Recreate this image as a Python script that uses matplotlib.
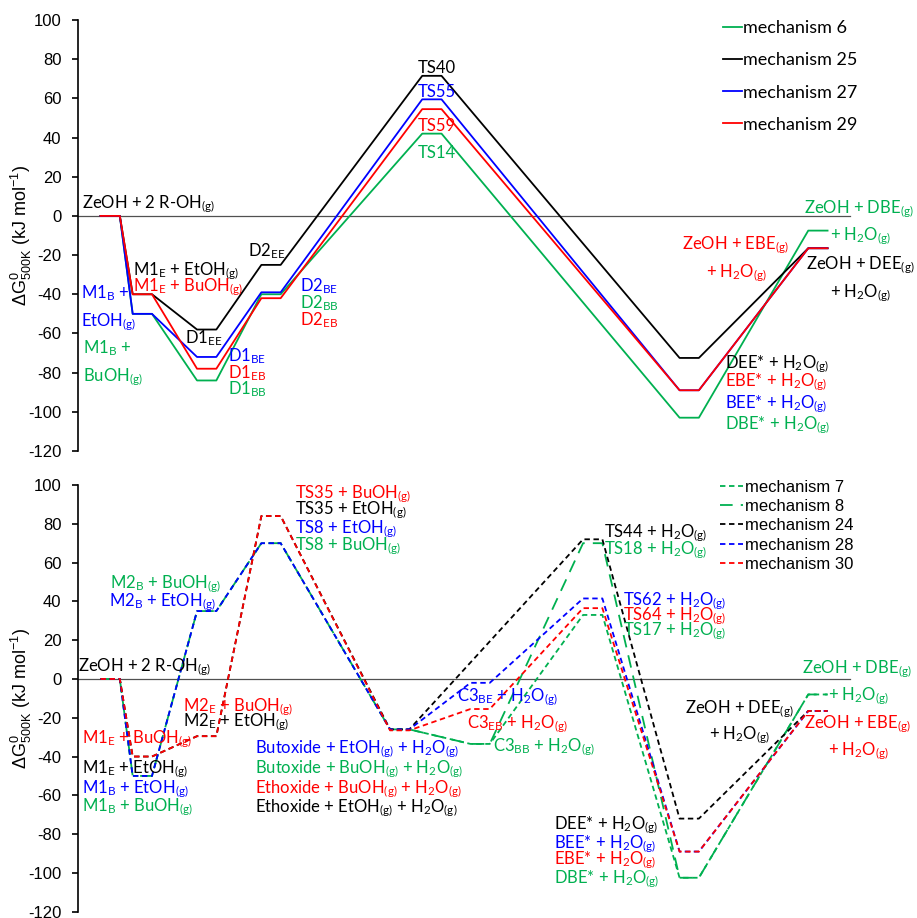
import numpy as np
import matplotlib
matplotlib.use("Agg")
import matplotlib.pyplot as plt

plt.rcParams["font.family"] = ["Lato", "DejaVu Sans"]
plt.rcParams["mathtext.fontset"] = "custom"
plt.rcParams["mathtext.rm"] = "Lato"
plt.rcParams["mathtext.default"] = "regular"
plt.rcParams["axes.unicode_minus"] = False

GREEN = "#00B050"
BLACK = "#000000"
BLUE = "#0000FF"
RED = "#FF0000"

# ---- upper panel: mechanisms 6 / 25 / 27 / 29 ----
top_steps = [1, 2, 4, 6, 11, 19, 23]
mech6 = [0, -50, -84, -40, 42, -103, -7.5]
mech25 = [0, -40, -58, -25, 71.5, -72.5, -16.5]
mech27 = [0, -50, -72, -39, 59.5, -89, -16.5]
mech29 = [0, -40, -78, -42, 54.5, -89, -16.5]

# ---- lower panel: mechanisms 7 / 8 / 24 / 28 / 30 ----
bot_steps = [1, 2, 4, 6, 10, 12.5, 16, 19, 23]
mech7 = [0, -50, 35, 70, -26, -33.5, 33, -102.5, -8]
mech8 = [0, -50, 35, 70, -26, -33.5, 70, -102.5, -8]
mech24 = [0, -40, -29.5, 84, -26, np.nan, 72, -72, -16.5]
mech28 = [0, -50, 35, 70, -26, -2, 41.5, -89, -16.5]
mech30 = [0, -40, -29.5, 84, -26.5, -15.5, 36.5, -89, -16.5]

HALF = 0.3  # half width of each level


def level_path(steps, values):
    xs, ys = [], []
    for s, v in zip(steps, values):
        if np.isnan(v):
            continue
        xs += [s - HALF, s + HALF]
        ys += [v, v]
    return xs, ys


top_labels = [
    ("ZeOH + 2 R-OH$_{(g)}$", 0.11, 3.9, BLACK),
    ("M1$_E$ + EtOH$_{(g)}$", 1.72, -30.1, BLACK),
    ("M1$_E$ + BuOH$_{(g)}$", 1.72, -38.6, RED),
    ("M1$_B$ +", 0.09, -42, BLUE),
    ("EtOH$_{(g)}$", 0.09, -56.5, BLUE),
    ("M1$_B$ +", 0.15, -70, GREEN),
    ("BuOH$_{(g)}$", 0.15, -84.5, GREEN),
    ("D1$_{EE}$", 3.33, -65, BLACK),
    ("D1$_{BE}$", 4.65, -74.3, BLUE),
    ("D1$_{EB}$", 4.65, -82.8, RED),
    ("D1$_{BB}$", 4.65, -91.3, GREEN),
    ("D2$_{EE}$", 5.29, -20.8, BLACK),
    ("D2$_{BE}$", 6.9, -38.6, BLUE),
    ("D2$_{BB}$", 6.9, -47.1, GREEN),
    ("D2$_{EB}$", 6.9, -55.6, RED),
    ("ZeOH + DBE$_{(g)}$", 22.57, 1.4, GREEN),
    ("+ H$_2$O$_{(g)}$", 23.38, -12.2, GREEN),
    ("ZeOH + EBE$_{(g)}$", 18.77, -17, RED),
    ("+ H$_2$O$_{(g)}$", 19.52, -31.3, RED),
    ("ZeOH + DEE$_{(g)}$", 22.63, -27.2, BLACK),
    ("+ H$_2$O$_{(g)}$", 23.38, -41.7, BLACK),
    ("DEE* + H$_2$O$_{(g)}$", 20.11, -77.7, BLACK),
    ("EBE* + H$_2$O$_{(g)}$", 20.11, -87.1, RED),
    ("BEE* + H$_2$O$_{(g)}$", 20.11, -98.1, BLUE),
    ("DBE* + H$_2$O$_{(g)}$", 20.11, -108.8, GREEN),
]
top_ts_labels = [
    ("TS40", 72.8, BLACK),
    ("TS55", 60.9, BLUE),
    ("TS59", 43.4, RED),
    ("TS14", 29.4, GREEN),
]

bot_labels = [
    ("TS35 + BuOH$_{(g)}$", 6.75, 93.3, RED),
    ("TS35 + EtOH$_{(g)}$", 6.75, 84.7, BLACK),
    ("TS8 + EtOH$_{(g)}$", 6.75, 75.3, BLUE),
    ("TS8 + BuOH$_{(g)}$", 6.75, 66.1, GREEN),
    ("M2$_B$ + BuOH$_{(g)}$", 0.99, 46.9, GREEN),
    ("M2$_B$ + EtOH$_{(g)}$", 0.96, 37.4, BLUE),
    ("ZeOH + 2 R-OH$_{(g)}$", 0.0, 3.9, BLACK),
    ("M2$_E$ + BuOH$_{(g)}$", 3.25, -16.7, RED),
    ("M2$_E$ + EtOH$_{(g)}$", 3.25, -24.4, BLACK),
    ("M1$_E$ + BuOH$_{(g)}$", 0.11, -33, RED),
    ("M1$_E$ + EtOH$_{(g)}$", 0.11, -48.5, BLACK),
    ("M1$_B$ + EtOH$_{(g)}$", 0.11, -58.8, BLUE),
    ("M1$_B$ + BuOH$_{(g)}$", 0.11, -68.2, GREEN),
    ("Butoxide + EtOH$_{(g)}$ + H$_2$O$_{(g)}$", 5.5, -38.1, BLUE),
    ("Butoxide + BuOH$_{(g)}$ + H$_2$O$_{(g)}$", 5.5, -48.5, GREEN),
    ("Ethoxide + BuOH$_{(g)}$ + H$_2$O$_{(g)}$", 5.5, -58.8, RED),
    ("Ethoxide + EtOH$_{(g)}$ + H$_2$O$_{(g)}$", 5.5, -69, BLACK),
    ("C3$_{BE}$ + H$_2$O$_{(g)}$", 11.77, -11.5, BLUE),
    ("C3$_{EB}$ + H$_2$O$_{(g)}$", 12.1, -25.3, RED),
    ("C3$_{BB}$ + H$_2$O$_{(g)}$", 12.91, -37.3, GREEN),
    ("TS44 + H$_2$O$_{(g)}$", 16.35, 73.2, BLACK),
    ("TS18 + H$_2$O$_{(g)}$", 16.35, 64.1, GREEN),
    ("TS62 + H$_2$O$_{(g)}$", 16.93, 37.8, BLUE),
    ("TS64 + H$_2$O$_{(g)}$", 16.93, 30.2, RED),
    ("TS17 + H$_2$O$_{(g)}$", 16.93, 22.3, GREEN),
    ("ZeOH + DBE$_{(g)}$", 22.52, 2.7, GREEN),
    ("+ H$_2$O$_{(g)}$", 23.3, -11, GREEN),
    ("ZeOH + DEE$_{(g)}$", 18.87, -17.5, BLACK),
    ("+ H$_2$O$_{(g)}$", 19.63, -31.3, BLACK),
    ("ZeOH + EBE$_{(g)}$", 22.57, -25.3, RED),
    ("+ H$_2$O$_{(g)}$", 23.3, -39.5, RED),
    ("DEE* + H$_2$O$_{(g)}$", 14.8, -77.7, BLACK),
    ("BEE* + H$_2$O$_{(g)}$", 14.8, -87.1, BLUE),
    ("EBE* + H$_2$O$_{(g)}$", 14.8, -95.7, RED),
    ("DBE* + H$_2$O$_{(g)}$", 14.8, -105.2, GREEN),
]

W, H = 917, 918
fig = plt.figure(figsize=(W / 100, H / 100), dpi=100)
X0 = 78
XMAX = (W - X0) / 32.17
ax1 = fig.add_axes([X0 / W, 1 - 451 / H, 1 - X0 / W, (451 - 20) / H])
ax2 = fig.add_axes([X0 / W, 1 - 911.7 / H, 1 - X0 / W, (911.7 - 485) / H])


def style_axis(ax):
    ax.set_xlim(0, XMAX)
    ax.set_ylim(-120, 100)
    for side in ("top", "right", "bottom"):
        ax.spines[side].set_visible(False)
    ax.spines["left"].set_linewidth(1.2)
    ax.set_xticks([])
    ax.set_yticks(range(-120, 101, 20))
    ax.tick_params(axis="y", direction="out", length=4, width=1.2, pad=8)
    for t in ax.get_yticklabels():
        t.set_family("Liberation Sans")
        t.set_fontsize(12)
    ax.plot([0, 24], [0, 0], color="#505050", lw=0.9, zorder=1)
    ax.set_ylabel("$\\Delta$G$^0_{500K}$ (kJ mol$^{-1}$)", fontsize=13,
                  family="Liberation Sans", va="center")
    ax.yaxis.set_label_coords((21 - X0) / (W - X0), 0.5)


style_axis(ax1)
style_axis(ax2)

# upper panel lines
for vals, col, name in [(mech6, GREEN, "mechanism 6"), (mech25, BLACK, "mechanism 25"),
                        (mech27, BLUE, "mechanism 27"), (mech29, RED, "mechanism 29")]:
    xs, ys = level_path(top_steps, vals)
    ax1.plot(xs, ys, color=col, lw=1.3, label=name, zorder=3)

for txt, x, y, col in top_labels:
    ax1.text(x, y, txt, color=col, fontsize=12, ha="left", va="baseline")
for txt, y, col in top_ts_labels:
    ax1.text(11.15, y, txt, color=col, fontsize=12, ha="center", va="baseline")

leg1 = ax1.legend(loc="upper left", bbox_to_anchor=(723 / W, 1 - 20 / H),
                  bbox_transform=fig.transFigure, frameon=False, fontsize=13,
                  handlelength=1.05, handletextpad=0.05, labelspacing=0.9,
                  borderpad=0, borderaxespad=0)

# lower panel lines
short_dash = (3, 2)
long_dash = (7, 4.5)
for vals, col, name, dash in [(mech7, GREEN, "mechanism 7", short_dash),
                              (mech8, GREEN, "mechanism 8", long_dash),
                              (mech24, BLACK, "mechanism 24", short_dash),
                              (mech28, BLUE, "mechanism 28", short_dash),
                              (mech30, RED, "mechanism 30", short_dash)]:
    xs, ys = level_path(bot_steps, vals)
    ax2.plot(xs, ys, color=col, lw=1.3, dashes=dash, label=name, zorder=3)

for txt, x, y, col in bot_labels:
    ax2.text(x, y, txt, color=col, fontsize=12, ha="left", va="baseline")

leg2 = ax2.legend(loc="upper left", bbox_to_anchor=(720 / W, 1 - 480 / H),
                  bbox_transform=fig.transFigure, frameon=False,
                  prop={"family": "Liberation Sans", "size": 12},
                  handlelength=1.4, handletextpad=0.1, labelspacing=0.25,
                  borderpad=0, borderaxespad=0)

fig.savefig("out.png", dpi=100)
